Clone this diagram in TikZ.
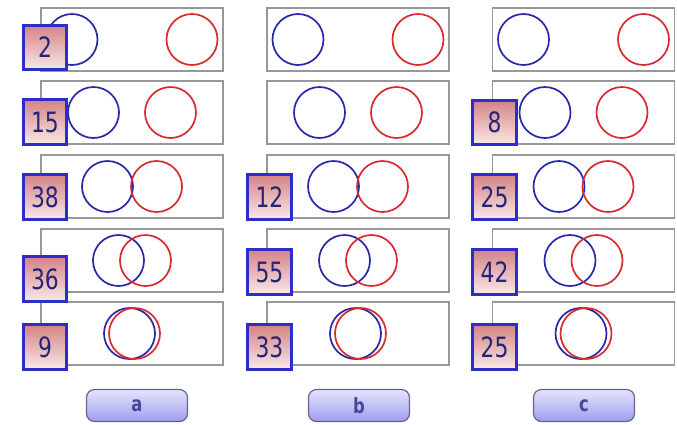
\documentclass[tikz,border=0pt]{standalone}
\usepackage{fontspec}
\usepackage{xcolor}
\newfontfamily\numfont[FakeStretch=0.78]{DejaVu Sans}
\definecolor{framegray}{RGB}{152,152,152}
\definecolor{ringblue}{RGB}{40,40,170}
\definecolor{ringred}{RGB}{218,42,48}
\definecolor{tagblue}{RGB}{45,45,200}
\definecolor{tagtop}{RGB}{212,132,132}
\definecolor{tagbottom}{RGB}{250,232,232}
\definecolor{digitblue}{RGB}{36,36,120}
\definecolor{btnline}{RGB}{100,100,145}
\definecolor{btntop}{RGB}{228,228,253}
\definecolor{btnbottom}{RGB}{158,158,238}
\definecolor{btntext}{RGB}{72,72,150}

\begin{document}
\begin{tikzpicture}[
    x=1pt,y=-1pt,
    panel/.style={rectangle,draw=framegray,line width=1.5pt,
      minimum width=182pt,minimum height=63pt,inner sep=0pt},
    blue ring/.style={circle,draw=ringblue,line width=1.7pt,minimum size=51pt,inner sep=0pt},
    red ring/.style={circle,draw=ringred,line width=1.7pt,minimum size=51pt,inner sep=0pt},
    tag/.style={rectangle,draw=tagblue,line width=2.6pt,top color=tagtop,bottom color=tagbottom,
      minimum width=43.5pt,minimum height=44.5pt,inner sep=0pt,text=digitblue,
      font=\numfont\fontsize{28}{28}\selectfont},
    button/.style={rectangle,rounded corners=8pt,draw=btnline,line width=1.2pt,
      top color=btntop,bottom color=btnbottom,minimum width=101pt,minimum height=32pt,
      text=btntext,font=\numfont\bfseries\fontsize{21}{21}\selectfont}
  ]
    \useasboundingbox (0,0) rectangle (677,424);

    % panels with the two rings
    \foreach \col/\cx in {a/132,b/358,c/583.5}
      \foreach \row/\cy/\d in {1/39.5/60,2/112.5/38.5,3/186.5/24.5,4/260.5/13.5,5/333.5/2.5} {
        \node[panel] (\col\row) at (\cx,\cy) {};
        \node[blue ring] (\col\row-blue) at ([xshift=-\d pt]\col\row.center) {};
        \node[red ring] (\col\row-red) at ([xshift=\d pt]\col\row.center) {};
      }

    % number tags
    \node[tag] (tag-a1) at (45,47.5) {2};
    \node[tag] (tag-a2) at (45,122) {15};
    \node[tag] (tag-a3) at (45,197) {38};
    \node[tag] (tag-a4) at (45,279) {36};
    \node[tag] (tag-a5) at (45,347) {9};
    \node[tag] (tag-b3) at (269.5,197) {12};
    \node[tag] (tag-b4) at (269.5,272) {55};
    \node[tag] (tag-b5) at (269.5,347) {33};
    \node[tag] (tag-c2) at (494.5,122.5) {8};
    \node[tag] (tag-c3) at (494.5,197) {25};
    \node[tag] (tag-c4) at (494.5,272) {42};
    \node[tag] (tag-c5) at (494.5,347) {25};

    % buttons
    \node[button] (btn-a) at (137,405.5) {a};
    \node[button] (btn-b) at (359,405.5) {b};
    \node[button] (btn-c) at (584,405.5) {c};
  \end{tikzpicture}
\end{document}
